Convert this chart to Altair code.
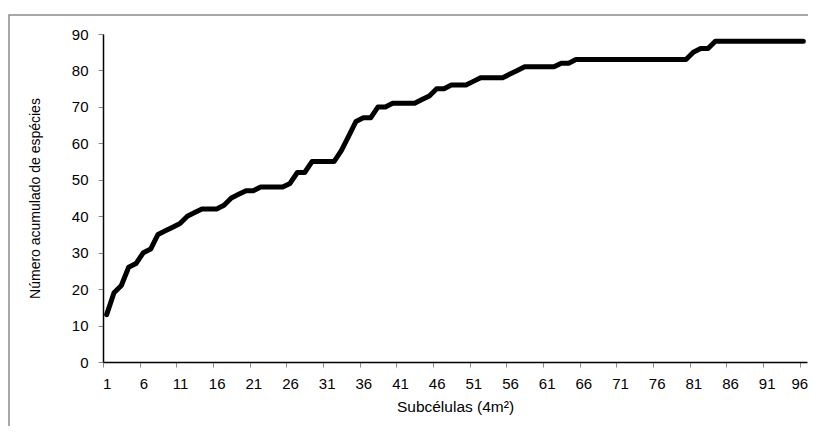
import altair as alt
import pandas as pd

subcelulas = list(range(1, 97))
especies = [
    13, 19, 21, 26, 27, 30, 31, 35, 36, 37,
    38, 40, 41, 42, 42, 42, 43, 45, 46, 47,
    47, 48, 48, 48, 48, 49, 52, 52, 55, 55,
    55, 55, 58, 62, 66, 67, 67, 70, 70, 71,
    71, 71, 71, 72, 73, 75, 75, 76, 76, 76,
    77, 78, 78, 78, 78, 79, 80, 81, 81, 81,
    81, 81, 82, 82, 83, 83, 83, 83, 83, 83,
    83, 83, 83, 83, 83, 83, 83, 83, 83, 83,
    85, 86, 86, 88, 88, 88, 88, 88, 88, 88,
    88, 88, 88, 88, 88, 88,
]
x_labels = [1, 6, 11, 16, 21, 26, 31, 36, 41, 46, 51, 56, 61, 66, 71, 76, 81, 86, 91, 96]
y_ticks = [0, 10, 20, 30, 40, 50, 60, 70, 80, 90]

df = pd.DataFrame({"sub": subcelulas, "esp": especies})
frame = pd.DataFrame({"k": [0]})

W, H = 704, 328
half_cat = W / 96 / 2
FONT = "Liberation Sans"

line = alt.Chart(df).mark_line(
    color="black", strokeWidth=5, strokeCap="round", strokeJoin="round", clip=False
).encode(
    x=alt.X(
        "sub:Q",
        scale=alt.Scale(domain=[0.5, 96.5], nice=False, zero=False),
        axis=alt.Axis(
            values=x_labels, title="Subcélulas (4m²)", grid=False,
            domainColor="black", domainWidth=1.5, tickColor="#8c8c8c", tickSize=5,
            tickOffset=-half_cat,
            labelOffset=alt.condition("datum.value == 96", alt.value(half_cat - 4), alt.value(half_cat)),
            labelPadding=9,
            labelFontSize=15, labelFont=FONT, labelColor="black",
            titleFontSize=15.5, titleFont=FONT, titleFontWeight="normal", titleColor="black",
            titleY=44, titleBaseline="middle",
        ),
    ),
    y=alt.Y(
        "esp:Q",
        scale=alt.Scale(domain=[0, 90], nice=False),
        axis=alt.Axis(
            values=y_ticks, title="Número acumulado de espécies", grid=False,
            domainColor="black", domainWidth=1.5, tickColor="#8c8c8c", tickSize=5,
            labelPadding=10, labelFontSize=15, labelFont=FONT, labelColor="black",
            titleFontSize=14, titleFont=FONT, titleFontWeight="normal", titleColor="black",
            titleX=-68, titleY=H / 2, titleBaseline="middle",
        ),
    ),
)

# chart-area frame: only its top and left edges fall inside the picture
frame_box = alt.Chart(frame).mark_rect(
    fill="white", fillOpacity=0, stroke="#8c8c8c", strokeWidth=1.5, clip=False
).encode(
    x=alt.value(-94), x2=alt.value(2000), y=alt.value(-19), y2=alt.value(2000)
)

chart = (
    alt.layer(frame_box, line)
    .properties(
        width=W, height=H,
        autosize=alt.AutoSizeParams(type="none"),
        padding={"left": 95, "top": 26, "right": 1, "bottom": 64},
    )
    .configure(background="white")
    .configure_view(strokeWidth=0, strokeOpacity=0)
)

chart.save("out.html", embed_options={"renderer": "svg", "actions": False})
